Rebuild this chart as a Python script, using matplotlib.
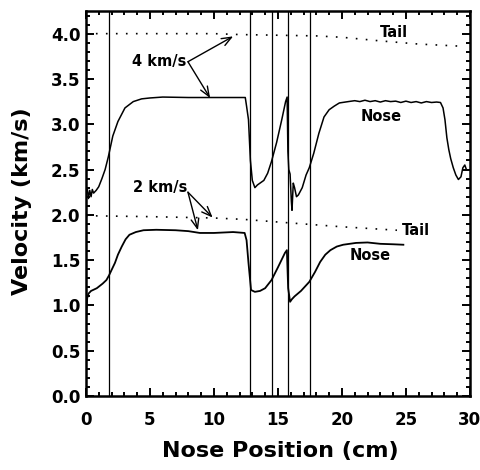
import numpy as np
import matplotlib
matplotlib.use('Agg')
import matplotlib.pyplot as plt
from matplotlib.ticker import MultipleLocator, FormatStrFormatter

# nose and tail velocity traces, 4 km/s shot
nose4_x = [0.0, 0.1, 0.2, 0.3, 0.4, 0.5, 0.6, 0.8, 1.0, 1.25, 1.5, 1.75, 2.1, 2.5, 3.05, 3.7, 4.35,
           5.0, 6.0, 8.0, 10.0, 12.0, 12.45, 12.55, 12.7, 12.85, 13.0, 13.2, 13.4, 13.6, 13.9, 14.2,
           14.5, 14.9, 15.3, 15.6, 15.72, 15.78, 15.85, 15.95, 16.05, 16.1, 16.2, 16.3, 16.45, 16.6,
           16.9, 17.2, 17.45, 17.8, 18.2, 18.6, 19.0, 19.4, 19.8, 20.5, 21.0, 21.4, 21.8, 22.2, 22.6,
           23.0, 23.4, 23.8, 24.2, 24.6, 25.0, 25.4, 25.8, 26.2, 26.6, 27.0, 27.4, 27.7, 27.9, 28.05,
           28.2, 28.35, 28.5, 28.7, 28.9, 29.1, 29.3, 29.45, 29.6, 29.7]
nose4_y = [2.22, 2.30, 2.18, 2.27, 2.20, 2.28, 2.24, 2.27, 2.31, 2.40, 2.50, 2.64, 2.87, 3.03, 3.18,
           3.25, 3.28, 3.29, 3.30, 3.295, 3.295, 3.295, 3.295, 3.20, 3.05, 2.60, 2.38, 2.30, 2.33,
           2.35, 2.38, 2.46, 2.59, 2.80, 3.05, 3.25, 3.30, 2.70, 2.50, 2.45, 2.15, 2.05, 2.35, 2.30,
           2.20, 2.22, 2.30, 2.44, 2.52, 2.68, 2.90, 3.08, 3.16, 3.20, 3.235, 3.25, 3.26, 3.25, 3.265,
           3.25, 3.26, 3.245, 3.26, 3.25, 3.255, 3.24, 3.255, 3.24, 3.25, 3.235, 3.25, 3.24, 3.245,
           3.24, 3.18, 3.05, 2.85, 2.72, 2.62, 2.52, 2.44, 2.39, 2.42, 2.52, 2.55, 2.51]

tail4_x = [0.0, 10.0, 12.0, 16.0, 18.0, 20.0, 23.0, 26.0, 29.5]
tail4_y = [4.0, 4.0, 3.99, 3.98, 3.975, 3.96, 3.92, 3.885, 3.86]

# 2 km/s shot
nose2_x = [0.0, 0.05, 0.1, 0.2, 0.4, 0.85, 1.3, 1.6, 1.8, 2.0, 2.27, 2.5, 2.8, 3.1, 3.4, 3.9, 4.5,
           5.5, 7.0, 8.0, 8.9, 10.0, 11.5, 12.4, 12.55, 12.7, 12.9, 13.2, 13.6, 14.0, 14.5, 15.0,
           15.55, 15.7, 15.8, 15.95, 16.1, 16.3, 16.8, 17.45, 17.9, 18.3, 18.7, 19.1, 19.6, 20.1,
           21.1, 22.0, 23.0, 24.0, 24.8]
nose2_y = [0.78, 0.95, 1.08, 1.13, 1.16, 1.19, 1.24, 1.28, 1.33, 1.39, 1.47, 1.56, 1.65, 1.73, 1.78,
           1.81, 1.83, 1.835, 1.83, 1.82, 1.80, 1.80, 1.81, 1.80, 1.72, 1.47, 1.17, 1.15, 1.16, 1.19,
           1.28, 1.42, 1.58, 1.61, 1.19, 1.04, 1.07, 1.10, 1.16, 1.26, 1.37, 1.48, 1.56, 1.61, 1.65,
           1.67, 1.69, 1.695, 1.68, 1.675, 1.67]

tail2_x = [0.0, 5.0, 10.0, 12.3, 16.0, 19.8, 24.3]
tail2_y = [1.99, 1.98, 1.965, 1.95, 1.91, 1.87, 1.83]

# probe positions along the track (cm)
probe_x = [1.8, 12.8, 14.55, 15.75, 17.47]

plt.rcParams['font.family'] = 'DejaVu Sans'
plt.rcParams['font.weight'] = 'bold'

fig = plt.figure(figsize=(4.8, 4.7), dpi=100)
ax = fig.add_axes([0.179, 0.1574, 0.8, 0.8192])

for px in probe_x:
    ax.axvline(px, color='black', lw=0.9)

ax.plot(nose4_x, nose4_y, color='black', lw=1.1)
ax.plot(nose2_x, nose2_y, color='black', lw=1.3)
ax.plot(tail4_x, tail4_y, color='black', lw=1.2, linestyle=(0, (1, 5)))
ax.plot(tail2_x, tail2_y, color='black', lw=1.2, linestyle=(0, (1, 5)))

txt = dict(fontsize=10.5, fontweight='bold', ha='center', va='center')
ax.text(24.1, 4.01, 'Tail', **txt)
ax.text(25.8, 1.83, 'Tail', **txt)
ax.text(23.1, 3.09, 'Nose', **txt)
ax.text(22.2, 1.55, 'Nose', **txt)
ax.text(5.7, 3.69, '4 km/s', **txt)
ax.text(5.8, 2.30, '2 km/s', **txt)

arrow = dict(arrowstyle='->,head_length=0.7,head_width=0.28', color='black', lw=1.0, shrinkA=0, shrinkB=0)
for start, end in [((7.97, 3.69), (11.5, 3.97)), ((7.97, 3.69), (9.7, 3.29)),
                   ((7.97, 2.25), (9.9, 1.97)), ((7.97, 2.25), (8.75, 1.83))]:
    ax.annotate('', xy=end, xytext=start, arrowprops=arrow)

ax.set_xlim(0, 30)
ax.set_ylim(0, 4.25)
ax.xaxis.set_major_locator(MultipleLocator(5))
ax.xaxis.set_minor_locator(MultipleLocator(1))
ax.yaxis.set_major_locator(MultipleLocator(0.5))
ax.yaxis.set_minor_locator(MultipleLocator(0.1))
ax.yaxis.set_major_formatter(FormatStrFormatter('%.1f'))
ax.tick_params(which='both', direction='in', top=True, right=True, width=1.4)
ax.tick_params(which='major', length=5.5, labelsize=12)
ax.tick_params(which='minor', length=2.8)
ax.tick_params(axis='x', which='major', pad=11)
ax.tick_params(axis='y', which='major', pad=4)
for lab in ax.get_xticklabels() + ax.get_yticklabels():
    lab.set_fontweight('bold')
for sp in ax.spines.values():
    sp.set_linewidth(1.8)

ax.set_xlabel('Nose Position (cm)', fontsize=16, fontweight='bold')
ax.set_ylabel('Velocity (km/s)', fontsize=16, fontweight='bold')
ax.xaxis.set_label_coords(0.505, -0.118)
ax.yaxis.set_label_coords(-0.14, 0.506)

plt.savefig('out.png', dpi=100)
plt.close()
